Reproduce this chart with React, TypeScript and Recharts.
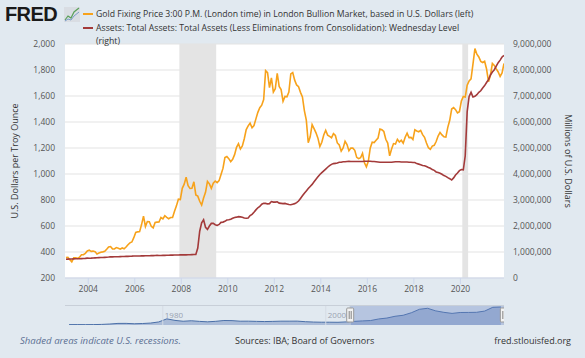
import React from 'react';
import {
  ComposedChart,
  Line,
  XAxis,
  YAxis,
  CartesianGrid,
  ReferenceArea,
  ReferenceLine,
  AreaChart,
  Area,
} from 'recharts';

// ---------- DATA ----------
const startYear = 2003;

// Gold Fixing Price 3:00 P.M. London, USD per troy ounce, monthly from Jan 2003
const goldPrice: number[] = [
  357, 359, 341, 325, 355, 356, 351, 360, 379, 379, 390, 408,
  414, 405, 407, 403, 384, 392, 398, 401, 405, 421, 439, 442,
  424, 423, 434, 429, 422, 431, 425, 438, 456, 470, 477, 510,
  550, 555, 557, 611, 676, 596, 634, 633, 598, 586, 628, 630,
  631, 665, 655, 679, 667, 656, 665, 665, 713, 755, 806, 803,
  890, 922, 975, 910, 889, 890, 940, 839, 830, 790, 761, 816,
  859, 943, 924, 890, 929, 946, 934, 949, 997, 1043, 1127, 1135,
  1118, 1095, 1113, 1149, 1205, 1233, 1193, 1216, 1271, 1342, 1370, 1391,
  1356, 1373, 1424, 1474, 1510, 1529, 1573, 1795, 1780, 1665, 1739, 1630,
  1656, 1775, 1674, 1650, 1560, 1597, 1594, 1630, 1770, 1780, 1722, 1685,
  1672, 1628, 1593, 1488, 1414, 1240, 1286, 1380, 1349, 1317, 1276, 1212,
  1244, 1300, 1336, 1299, 1289, 1279, 1311, 1296, 1239, 1223, 1176, 1201,
  1252, 1227, 1179, 1199, 1199, 1182, 1128, 1118, 1125, 1159, 1086, 1055,
  1098, 1200, 1245, 1242, 1259, 1276, 1345, 1340, 1327, 1267, 1238, 1140,
  1192, 1234, 1231, 1267, 1246, 1260, 1237, 1283, 1314, 1280, 1282, 1265,
  1340, 1331, 1325, 1335, 1303, 1282, 1238, 1202, 1190, 1215, 1221, 1250,
  1292, 1320, 1301, 1286, 1284, 1359, 1413, 1500, 1511, 1495, 1470, 1479,
  1561, 1597, 1592, 1683, 1716, 1732, 1847, 1965, 1922, 1900, 1866, 1858,
  1867, 1808, 1710, 1760, 1850, 1835, 1808, 1785, 1750, 1777, 1850,
];

// Fed total assets, millions of USD, monthly from Jan 2003
const totalAssets: number[] = [
  722000, 725000, 728000, 732000, 735000, 738000, 740000, 742000, 746000, 750000, 756000, 765000,
  762000, 765000, 770000, 775000, 780000, 783000, 786000, 790000, 795000, 800000, 805000, 815000,
  812000, 815000, 818000, 820000, 823000, 826000, 828000, 830000, 832000, 835000, 840000, 848000,
  845000, 846000, 848000, 850000, 852000, 855000, 856000, 858000, 860000, 862000, 866000, 870000,
  868000, 868000, 870000, 872000, 874000, 876000, 878000, 880000, 882000, 884000, 886000, 890000,
  891000, 890000, 888000, 893000, 895000, 898000, 901000, 903000, 1150000, 1800000, 2120000, 2240000,
  1950000, 1870000, 2000000, 2100000, 2100000, 2050000, 2020000, 2060000, 2140000, 2150000, 2180000, 2230000,
  2240000, 2260000, 2300000, 2330000, 2340000, 2360000, 2350000, 2340000, 2310000, 2300000, 2310000, 2400000,
  2450000, 2530000, 2620000, 2700000, 2750000, 2840000, 2870000, 2870000, 2850000, 2860000, 2940000, 2920000,
  2920000, 2930000, 2880000, 2870000, 2860000, 2870000, 2850000, 2830000, 2820000, 2840000, 2860000, 2900000,
  2960000, 3060000, 3160000, 3260000, 3350000, 3440000, 3520000, 3600000, 3700000, 3800000, 3890000, 3980000,
  4050000, 4120000, 4190000, 4260000, 4320000, 4370000, 4400000, 4410000, 4420000, 4450000, 4450000, 4470000,
  4470000, 4480000, 4490000, 4480000, 4480000, 4480000, 4480000, 4480000, 4480000, 4480000, 4490000, 4490000,
  4490000, 4490000, 4480000, 4480000, 4470000, 4460000, 4450000, 4450000, 4450000, 4450000, 4450000, 4450000,
  4450000, 4460000, 4470000, 4470000, 4470000, 4460000, 4460000, 4460000, 4460000, 4450000, 4450000, 4440000,
  4440000, 4400000, 4380000, 4360000, 4330000, 4320000, 4290000, 4250000, 4220000, 4170000, 4140000, 4080000,
  4060000, 4030000, 3990000, 3940000, 3910000, 3860000, 3820000, 3770000, 3850000, 3960000, 4040000, 4130000,
  4170000, 4160000, 4700000, 6400000, 6980000, 7140000, 6960000, 6990000, 7050000, 7140000, 7200000, 7310000,
  7400000, 7520000, 7630000, 7810000, 7920000, 8010000, 8150000, 8280000, 8380000, 8500000, 8560000,
];

const xTicks = [2004, 2006, 2008, 2010, 2012, 2014, 2016, 2018, 2020];
const goldTicks = [200, 400, 600, 800, 1000, 1200, 1400, 1600, 1800, 2000];
const assetTicks = [0, 1000000, 2000000, 3000000, 4000000, 5000000, 6000000, 7000000, 8000000, 9000000];
const recessions: [number, number][] = [
  [2007.917, 2009.5],
  [2020.083, 2020.333],
];

// Navigator: annual gold price history
const navStartYear = 1968;
const navGold: number[] = [
  39, 41, 36, 41, 58, 97, 159, 161, 125, 148,
  193, 306, 615, 460, 376, 424, 361, 317, 368, 447,
  437, 381, 383, 362, 344, 360, 384, 384, 388, 331,
  294, 279, 279, 271, 310, 363, 409, 445, 604, 695,
  872, 972, 1225, 1572, 1669, 1411, 1266, 1160, 1251, 1257,
  1268, 1393, 1770, 1800,
];
const navLabels = [1980, 2000];

// ---------- BUILD TABLES ----------
const mainData = goldPrice.map((g, i) => ({
  t: startYear + i / 12 + 1 / 24,
  gold: g,
  assets: totalAssets[i],
}));
const navData = navGold.map((g, i) => ({ t: navStartYear + i + 0.5, gold: g }));

const X_MIN = 2003;
const X_MAX = 2021.875;
const FONT = "'Open Sans', 'DejaVu Sans', sans-serif";
const BG = '#e1e9f0';
const GOLD = '#f7a21b';
const RED = '#a33a3a';

const fmt = (v: number) => v.toLocaleString('en-US');

const Handle = (props: any) => {
  const vb = props.viewBox || {};
  const cx = vb.x;
  const cy = (vb.y || 0) + (vb.height || 0) / 2;
  return (
    <g>
      <rect x={cx - 3.5} y={cy - 7} width={7} height={14} rx={1} fill="#f2f2f2" stroke="#999" strokeWidth={1} />
      <line x1={cx - 1} y1={cy - 4} x2={cx - 1} y2={cy + 4} stroke="#666" strokeWidth={0.8} />
      <line x1={cx + 1} y1={cy - 4} x2={cx + 1} y2={cy + 4} stroke="#666" strokeWidth={0.8} />
    </g>
  );
};

const NavLabel = (props: any) => {
  const vb = props.viewBox || {};
  return (
    <text x={vb.x + 2} y={(vb.y || 0) + 13} fontSize={8} fill="#9aa3b0" fontFamily={FONT}>
      {props.value}
    </text>
  );
};

export default function App() {
  return (
    <div
      style={{
        position: 'absolute',
        left: 0,
        top: 0,
        width: 585,
        height: 358,
        background: BG,
        fontFamily: FONT,
        overflow: 'hidden',
      }}
    >
      <div style={{ position: 'absolute', left: 0, top: 0 }}>
        <ComposedChart
          width={585}
          height={358}
          data={mainData}
          margin={{ top: 44, right: 0, bottom: 60, left: 0 }}
        >
          <CartesianGrid yAxisId="left" vertical={false} stroke="#e3e3e3" fill="#ffffff" />
          <XAxis
            dataKey="t"
            type="number"
            domain={[X_MIN, X_MAX]}
            ticks={xTicks}
            allowDataOverflow
            height={20}
            stroke="#ccd6eb"
            tickLine={{ stroke: '#ccd6eb' }}
            tick={{ fontSize: 8.5, fill: '#555', fontFamily: FONT }}
            tickFormatter={(v: number) => String(Math.round(v))}
          />
          <YAxis
            yAxisId="left"
            orientation="left"
            width={65}
            domain={[200, 2000]}
            ticks={goldTicks}
            allowDataOverflow
            axisLine={false}
            tickLine={false}
            tickSize={8}
            tickMargin={2}
            tick={{ fontSize: 8.5, fill: '#555', fontFamily: FONT }}
            tickFormatter={fmt}
          />
          <YAxis
            yAxisId="right"
            orientation="right"
            width={81}
            domain={[0, 9000000]}
            ticks={assetTicks}
            allowDataOverflow
            axisLine={false}
            tickLine={false}
            tickSize={6}
            tickMargin={3}
            tick={{ fontSize: 8.5, fill: '#555', fontFamily: FONT, textAnchor: 'start' }}
            tickFormatter={fmt}
          />
          {recessions.map(([a, b], i) => (
            <ReferenceArea
              key={i}
              yAxisId="left"
              x1={a}
              x2={b}
              fill="#e4e4e4"
              fillOpacity={1}
              stroke="none"
              ifOverflow="hidden"
            />
          ))}
          <Line
            yAxisId="left"
            type="linear"
            dataKey="gold"
            stroke={GOLD}
            strokeWidth={1.6}
            dot={false}
            isAnimationActive={false}
          />
          <Line
            yAxisId="right"
            type="linear"
            dataKey="assets"
            stroke={RED}
            strokeWidth={1.6}
            dot={false}
            isAnimationActive={false}
          />
        </ComposedChart>
      </div>

      {/* Navigator */}
      <div style={{ position: 'absolute', left: 65, top: 305 }}>
        <AreaChart width={439} height={20} data={navData} margin={{ top: 0, right: 0, bottom: 0, left: 0 }}>
          <XAxis dataKey="t" type="number" domain={[navStartYear, X_MAX]} hide />
          <YAxis domain={[0, 2000]} hide />
          {navLabels.map((y) => (
            <ReferenceLine key={y} x={y} stroke="#d5dbe4" label={<NavLabel value={String(y)} />} />
          ))}
          <Area
            type="linear"
            dataKey="gold"
            stroke="#4a6fa8"
            strokeWidth={1}
            fill="#7f98c4"
            fillOpacity={0.55}
            isAnimationActive={false}
          />
          <ReferenceArea x1={X_MIN} x2={X_MAX} fill="#6685c2" fillOpacity={0.35} stroke="none" />
          <ReferenceLine x={X_MIN} stroke="#b8c4d6" label={<Handle />} />
          <ReferenceLine x={X_MAX - 0.02} stroke="#b8c4d6" label={<Handle />} />
        </AreaChart>
      </div>

      {/* Text overlay */}
      <svg
        width={585}
        height={358}
        style={{ position: 'absolute', left: 0, top: 0, pointerEvents: 'none' }}
      >
        {/* FRED logo */}
        <text x={5} y={21} fontSize={20} fontWeight={900} fill="#1a1a1a" fontFamily="'Liberation Sans', Arial, sans-serif" letterSpacing={-0.6}>
          FRED
        </text>
        <g>
          <rect x={64} y={7} width={16} height={15} fill="#d9dde3" />
          <polyline points="65,20 68,16 71,18 74,12 79,8" fill="none" stroke="#5aa05a" strokeWidth={1.2} />
          <polyline points="65,21 68,19 71,20 74,16 79,12" fill="none" stroke="#7a9cc8" strokeWidth={1} />
        </g>
        {/* Legend */}
        <line x1={83} y1={14} x2={93} y2={14} stroke={GOLD} strokeWidth={2} />
        <text x={96} y={17} fontSize={8.7} fill="#333" fontFamily={FONT}>
          Gold Fixing Price 3:00 P.M. (London time) in London Bullion Market, based in U.S. Dollars (left)
        </text>
        <line x1={83} y1={28} x2={93} y2={28} stroke={RED} strokeWidth={2} />
        <text x={96} y={31} fontSize={8.7} fill="#333" fontFamily={FONT}>
          Assets: Total Assets: Total Assets (Less Eliminations from Consolidation): Wednesday Level
        </text>
        <text x={96} y={44} fontSize={8.7} fill="#333" fontFamily={FONT}>
          (right)
        </text>
        {/* Axis titles */}
        <text
          x={14}
          y={161}
          fontSize={9}
          fill="#333"
          fontFamily={FONT}
          textAnchor="middle"
          dominantBaseline="central"
          transform="rotate(-90 14 161)"
        >
          U.S. Dollars per Troy Ounce
        </text>
        <text
          x={568}
          y={161}
          fontSize={9}
          fill="#333"
          fontFamily={FONT}
          textAnchor="middle"
          dominantBaseline="central"
          transform="rotate(90 568 161)"
        >
          Millions of U.S. Dollars
        </text>
        {/* Navigator top outline */}
        <line x1={65} y1={305.5} x2={504} y2={305.5} stroke="#c8cfd8" strokeWidth={1} />
        {/* Footer */}
        <text x={20} y={344} fontSize={9.6} fontStyle="italic" fill="#5b6f93" fontFamily={FONT}>
          Shaded areas indicate U.S. recessions.
        </text>
        <text x={235} y={344} fontSize={9} fill="#333" fontFamily={FONT}>
          Sources: IBA; Board of Governors
        </text>
        <text x={571} y={344} fontSize={9} fill="#333" fontFamily={FONT} textAnchor="end">
          fred.stlouisfed.org
        </text>
      </svg>
    </div>
  );
}
